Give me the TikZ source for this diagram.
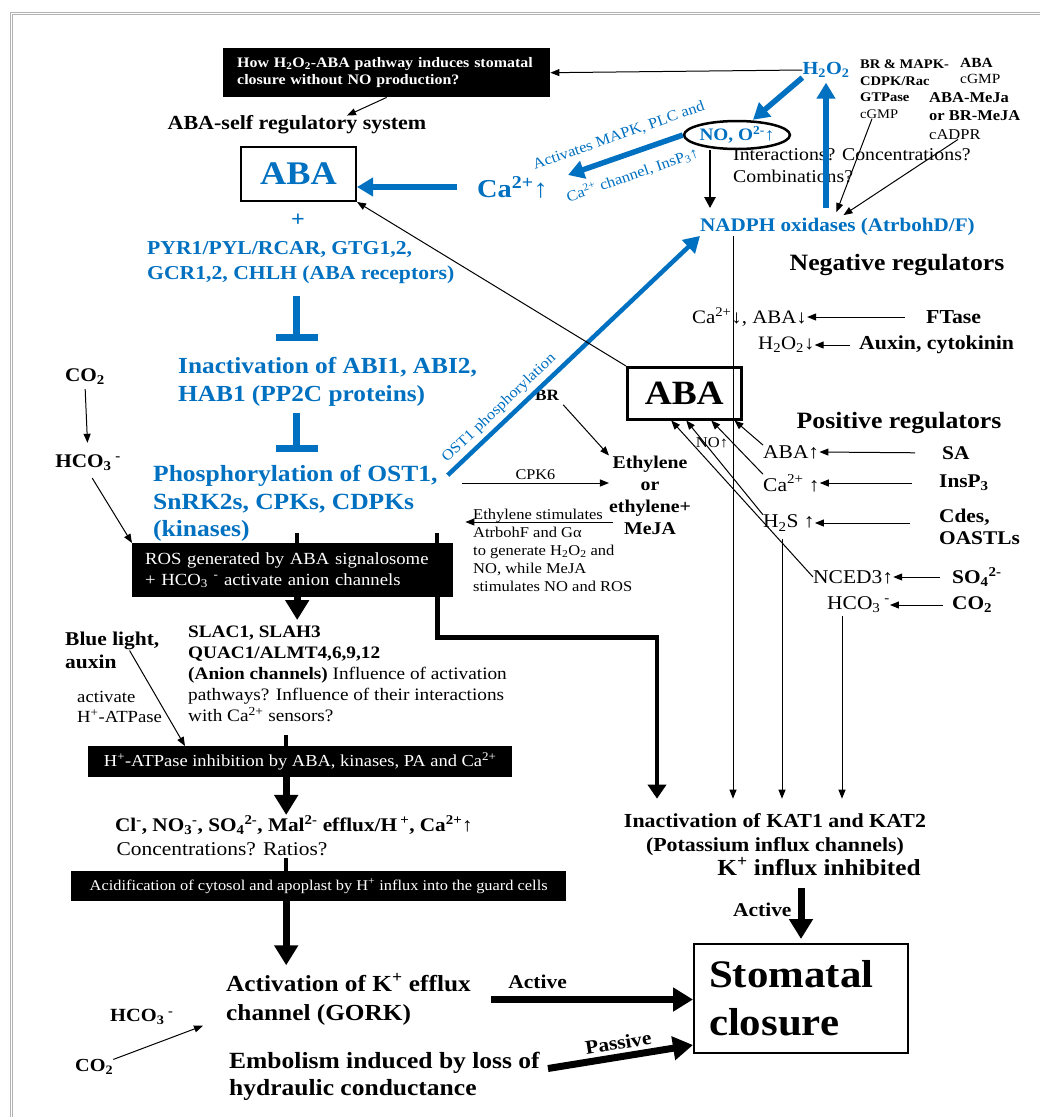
\documentclass[tikz,border=0pt]{standalone}
\usepackage{fontspec}
\setmainfont{Liberation Serif}[FakeStretch=1.1]
\usetikzlibrary{arrows.meta,shapes.geometric}
\definecolor{abablue}{RGB}{0,112,192}
\newcommand{\sbs}[1]{\textsubscript{#1}}
\newcommand{\sps}[1]{\textsuperscript{#1}}
\tikzset{
  fs/.style 2 args={font=\fontsize{#1}{#2}\selectfont},
  bfs/.style 2 args={font=\bfseries\fontsize{#1}{#2}\selectfont},
  txt/.style={anchor=west, align=left},
  blk/.style={fill=black, text=white, anchor=north west},
  abox/.style={draw, line width=2pt, anchor=north west},
  thin arr/.style={draw, line width=1pt, -{Triangle[length=9pt,width=7pt]}},
  blue arr/.style={draw=abablue, line width=5.5pt, -{Triangle[length=16pt,width=18pt]}},
  fat arr/.style={draw, line width=7pt, -{Triangle[length=20pt,width=23pt]}},
  inhib/.style={draw=abablue, line width=7pt, -{Bar[width=42pt]}},
  stub/.style={draw, line width=4pt},
}
\begin{document}
\begin{tikzpicture}[x=1pt, y=-1pt, inner sep=0pt]
  \useasboundingbox (0,0) rectangle (1040,1117);
  \fill[white] (0,0) rectangle (1040,1117);
  \draw[gray!60, line width=0.7pt, double=white, double distance=1.3pt] (11.5,1120) -- (11.5,13.5) -- (1045,13.5);

  % top: question box, ABA and receptors
  \node[blk, minimum width=327pt, minimum height=49pt, text width=299pt, bfs={14.5}{17}] (q) at (223,48)
    {How H\sbs{2}O\sbs{2}-ABA pathway induces stomatal\\closure without NO production?};
  \node[bfs={20}{22}] (selfreg) at (297,125) {ABA-self regulatory system};
  \node[abox, minimum width=115pt, minimum height=54pt, text=abablue, bfs={33}{36}] (abaTop) at (240,146) {ABA};
  \node[txt, text=abablue, bfs={25.8}{28}] (ca) at (477,187) {Ca\sps{2+}↑};
  \node[text=abablue, bfs={22}{24}] (plus) at (298,220) {+};
  \node[txt, text=abablue, bfs={19.7}{25}] (pyr) at (147,263) {PYR1/PYL/RCAR, GTG1,2,\\GCR1,2, CHLH (ABA receptors)};
  \node[txt, text=abablue, bfs={23}{28}] (inact) at (178,382) {Inactivation of ABI1, ABI2,\\HAB1 (PP2C proteins)};
  \node[txt, text=abablue, bfs={23.2}{27.5}] (phos) at (153,503.5) {Phosphorylation of OST1,\\SnRK2s, CPKs, CDPKs\\(kinases)};

  % left column
  \node[bfs={19.3}{21}] (co2a) at (85,377) {CO\sbs{2}};
  \node[bfs={19.3}{21}] (hco3a) at (88,463) {HCO\sbs{3}\sps{ -}};
  \node[blk, minimum width=321pt, minimum height=54pt, text width=295pt, fs={17}{21}] (ros) at (132,543)
    {ROS generated by ABA signalosome\\+ HCO\sbs{3}\sps{ -} activate anion channels};
  \node[txt, anchor=north west, fs={17.5}{21}] (slac) at (188,626)
    {\textbf{SLAC1, SLAH3}\\\textbf{QUAC1/ALMT4,6,9,12}\\\textbf{(Anion channels)} Influence of activation\\pathways? Influence of their interactions\\with Ca\sps{2+} sensors?};
  \node[txt, bfs={19.5}{23}] (bluel) at (65,650.5) {Blue light,\\auxin};
  \node[txt, fs={17}{20}] (activ) at (77,707) {activate\\H\sps{+}-ATPase};
  \node[blk, minimum width=424pt, minimum height=31pt, fs={16.8}{18}] (hatp) at (88,746)
    {H\sps{+}-ATPase inhibition by ABA, kinases, PA and Ca\sps{2+}};
  \node[bfs={19.3}{21}] (ions) at (294,825) {Cl\sps{-}, NO\sbs{3}\sps{-}, SO\sbs{4}\sps{2-}, Mal\sps{2-} efflux/H\,\sps{+}, Ca\sps{2+}↑};
  \node[fs={19.5}{21}] (conc) at (222,849) {Concentrations? Ratios?};
  \node[blk, minimum width=495pt, minimum height=30pt, fs={14.9}{17}] (acid) at (71,871)
    {Acidification of cytosol and apoplast by H\sps{+} influx into the guard cells};
  \node[txt, bfs={23}{29}] (gork) at (226,999.5) {Activation of K\sps{+} efflux\\channel (GORK)};
  \node[txt, bfs={18.6}{20}] (hco3b) at (110,1017) {HCO\sbs{3}\sps{ -}};
  \node[txt, bfs={18.4}{20}] (co2b) at (75,1067) {CO\sbs{2}};
  \node[txt, bfs={23.2}{27}] (embol) at (229,1076.5) {Embolism induced by loss of\\hydraulic conductance};

  % bottom right
  \node[abox, minimum width=214pt, minimum height=109pt, text width=184pt, align=left, bfs={39}{48}] (stoma) at (693,943) {Stomatal\\closure};
  \node[bfs={23}{24}] (kinf) at (819,867) {K\sps{+} influx inhibited};
  \node[bfs={19.9}{24}, align=center, inner ysep=15pt] (kat) at (775,835) {Inactivation of KAT1 and KAT2\\(Potassium influx channels)};

  % right: regulators
  \node[abox, line width=2.5pt, minimum width=114pt, minimum height=52pt, bfs={34}{36}] (abaLow) at (626,366) {ABA};
  \node[fs={15}{16}] (noup) at (712,443) {NO↑};
  \node[bfs={23.4}{24}] (posreg) at (899,423) {Positive regulators};
  \node[txt, fs={19.5}{22}] (abaUp) at (763,452) {ABA↑};
  \node[txt, fs={19.5}{22}] (caUp) at (763,483) {Ca\sps{2+} ↑};
  \node[txt, fs={19.5}{22}] (h2s) at (763,523) {H\sbs{2}S ↑};
  \node[txt, fs={19.5}{22}] (nced) at (813,577) {NCED3↑};
  \node[txt, fs={19.5}{22}] (hco3c) at (827,605) {HCO\sbs{3}\sps{ -}};
  \node[txt, bfs={19.4}{22}] (sa) at (942,453) {SA};
  \node[txt, bfs={19.4}{22}] (insp) at (939,483) {InsP\sbs{3}};
  \node[txt, bfs={19.4}{22}] (cdes) at (939,527) {Cdes,\\OASTLs};
  \node[txt, bfs={19.4}{22}] (so4) at (952,577) {SO\sbs{4}\sps{2-}};
  \node[txt, bfs={19.4}{22}] (co2c) at (952,605) {CO\sbs{2}};
  \node[bfs={23.4}{24}] (negreg) at (897,265) {Negative regulators};
  \node[txt, fs={19}{22}] (cadown) at (692,317) {Ca\sps{2+}↓, ABA↓};
  \node[txt, fs={19}{22}] (h2o2d) at (758,345) {H\sbs{2}O\sbs{2}↓};
  \node[txt, bfs={19.8}{22}] (ftase) at (926,317) {FTase};
  \node[txt, bfs={19.8}{22}] (auxin) at (859,345) {Auxin, cytokinin};

  % top right: H2O2, NO and NADPH oxidases
  \node[text=abablue, bfs={18.5}{22}] (h2o2) at (826,70) {H\sbs{2}O\sbs{2}};
  \node[ellipse, draw, line width=2.5pt, minimum width=104pt, minimum height=28pt, text=abablue, bfs={17.5}{20}] (noEl) at (737,135) {NO, O\sps{2-}↑};
  \node[txt, anchor=north west, fs={18}{22}] (inter) at (733,148) {Interactions? Concentrations?\\Combinations?};
  \node[txt, anchor=north west, bfs={13.2}{16.5}] (brmapk) at (860,60) {BR \& MAPK-\\CDPK/Rac\\GTPase\\{\mdseries cGMP}};
  \node[txt, anchor=north west, fs={14}{16.5}] (abacgmp) at (960,58) {\textbf{ABA}\\cGMP};
  \node[txt, anchor=north west, bfs={15}{18.5}] (abameja) at (929,92) {ABA-MeJa\\or BR-MeJA\\{\mdseries cADPR}};
  \node[txt, text=abablue, bfs={19.2}{20}] (nadph) at (700,227) {NADPH oxidases (AtrbohD/F)};

  % middle: ethylene
  \node[bfs={15.7}{17}] (br) at (547,395) {BR};
  \node[bfs={18}{22}, align=center] (eth) at (650,495) {Ethylene\\or\\ethylene+\\MeJA};
  \node[txt, anchor=north west, fs={15}{18}] (ethstim) at (473,509)
    {Ethylene stimulates\\AtrbohF and Gα\\to generate H\sbs{2}O\sbs{2} and\\NO, while MeJA\\stimulates NO and ROS};

  % connectors: top
  \draw[thin arr] (h2o2.west) -- (q.east);
  \draw[thin arr] (q.south) -- ([xshift=50pt]selfreg.north);
  \draw[blue arr, line width=6pt, shorten <=20pt] (ca.west) -- (ca.west -| abaTop.east);
  \coordinate (t1) at ([xshift=-4pt]pyr.south);
  \draw[inhib, shorten <=12pt, shorten >=16pt] (t1) -- (t1 |- inact.north);
  \draw[inhib, shorten <=6pt, shorten >=13pt] (t1 |- inact.south) -- (t1 |- phos.north);
  \draw[blue arr, line width=4.5pt] ([xshift=10pt,yshift=-10pt]phos.north east) -- (nadph.south west)
    node[pos=0.24, sloped, above=4pt, text=abablue, fs={15}{17}] {OST1 phosphorylation};
  \draw[blue arr, shorten <=10pt, shorten >=5pt] (h2o2.south |- nadph.north) -- (h2o2.south);
  \draw[blue arr] (h2o2.south west) -- ([xshift=16pt]noEl.north);
  \draw[blue arr] (noEl.west) -- ([xshift=20pt,yshift=12pt]ca.east)
    node[midway, sloped, above=11pt, text=abablue, fs={15}{17}] {Activates MAPK, PLC and}
    node[midway, sloped, below=11pt, text=abablue, fs={15}{17}] {Ca\sps{2+} channel, InsP\sbs{3}↑};
  \coordinate (no1) at ([xshift=-27pt]noEl.south);
  \draw[line width=2.5pt, -{Triangle[length=11pt,width=11pt]}, shorten >=10pt] (no1) -- (no1 |- nadph.north);
  \draw[thin arr] ([xshift=12pt]brmapk.south west) -- ([xshift=-1pt,yshift=6pt]nadph.north);
  \draw[thin arr] ([xshift=29pt]abameja.south west) -- ([xshift=6pt,yshift=3pt]nadph.north);

  % connectors: ABA boxes and regulators
  \draw[thin arr] (abaLow.north west) -- (abaTop.south east);
  \draw[thin arr] (abaUp.north west) -- ([xshift=-8pt]abaLow.south east);
  \draw[thin arr] (caUp.north west) -- ([xshift=27pt]abaLow.south);
  \draw[thin arr] (h2s.north west) -- ([xshift=2pt]abaLow.south);
  \draw[thin arr] (nced.west) -- ([xshift=-13pt]abaLow.south);
  \draw[thin arr, shorten <=21pt] (ftase.west) -- (cadown.east);
  \draw[thin arr, shorten <=9pt] (auxin.west) -- (h2o2d.east);
  \draw[thin arr, shorten <=27pt] (sa.west) -- (abaUp.east);
  \draw[thin arr, shorten <=27pt] (insp.west) -- (caUp.east);
  \draw[thin arr, shorten <=29pt] (cdes.west |- h2s.east) -- (h2s.east);
  \draw[thin arr, shorten <=12pt] (so4.west) -- (nced.east);
  \draw[thin arr, shorten <=9pt] (co2c.west) -- (hco3c.east);
  \coordinate (n1) at ([xshift=33pt]nadph.south west);
  \draw[thin arr] (n1) -- (n1 |- kat.north);
  \coordinate (n2) at ([xshift=19pt,yshift=-8pt]h2s.south west);
  \draw[thin arr] (n2) -- (n2 |- kat.north);
  \coordinate (n3) at ([xshift=15pt,yshift=-3pt]hco3c.south west);
  \draw[thin arr] (n3) -- (n3 |- kat.north);

  % connectors: ethylene
  \draw[thin arr, shorten <=6pt] (br.south east) -- (eth.north west);
  \coordinate (cpkS) at (462,483);
  \draw[thin arr] (cpkS) -- (cpkS -| eth.west) node[midway, above=3pt, fs={14.8}{16}] {CPK6};
  \coordinate (ethS) at (613,522);
  \draw[thin arr, shorten >=12pt] (ethS) -- (ethS -| ros.east);

  % connectors: left column
  \draw[thin arr, shorten <=4pt, shorten >=12pt] (co2a.south) -- (hco3a.north);
  \draw[thin arr, shorten <=8pt] (hco3a.south) -- (ros.north west);
  \draw[stub] ([xshift=4.5pt]ros.north) -- ++(0,-10);
  \coordinate (r2) at ([xshift=-16pt]ros.south east);
  \draw[stub] (r2 |- ros.north) -- ++(0,-10);
  \coordinate (r1) at ([xshift=4.5pt]ros.south);
  \draw[fat arr, shorten >=6pt] (r1) -- (r1 |- slac.north);
  \coordinate (k1) at ([xshift=-118pt]kat.north);
  \draw[line width=4.5pt, -{Triangle[length=14pt,width=18pt]}] (r2) -- ++(0,40) -| (k1);
  \draw[thin arr] ([xshift=-30pt]bluel.east) -- ([xshift=97pt]hatp.north west);
  \draw[stub] ([xshift=-14pt]hatp.north) -- ++(0,-11);
  \coordinate (h1) at ([xshift=-14pt]hatp.south);
  \draw[fat arr] (h1) -- (h1 |- ions.north);
  \draw[stub] ([xshift=-32.5pt]acid.north) -- ++(0,-13);
  \coordinate (a1) at ([xshift=-32.5pt]acid.south);
  \draw[fat arr, shorten >=8pt] (a1) -- (a1 |- gork.north);
  \draw[thin arr] (co2b.north east) -- ([xshift=-23pt]gork.south west);

  % connectors: into stomatal closure
  \draw[fat arr, shorten <=20pt] (gork.east) -- (gork.east -| stoma.west)
    node[pos=0.3, above=7pt, bfs={19.5}{20}] {Active};
  \draw[fat arr] ([xshift=8pt,yshift=8pt]embol.east) -- ([yshift=9pt]stoma.south west)
    node[midway, sloped, above=4pt, bfs={19.5}{20}] {Passive};
  \draw[fat arr, shorten <=12pt, shorten >=4pt] (kinf.south -| stoma.north) -- (stoma.north)
    node[midway, left=6pt, bfs={19.5}{20}] {Active};
\end{tikzpicture}
\end{document}
